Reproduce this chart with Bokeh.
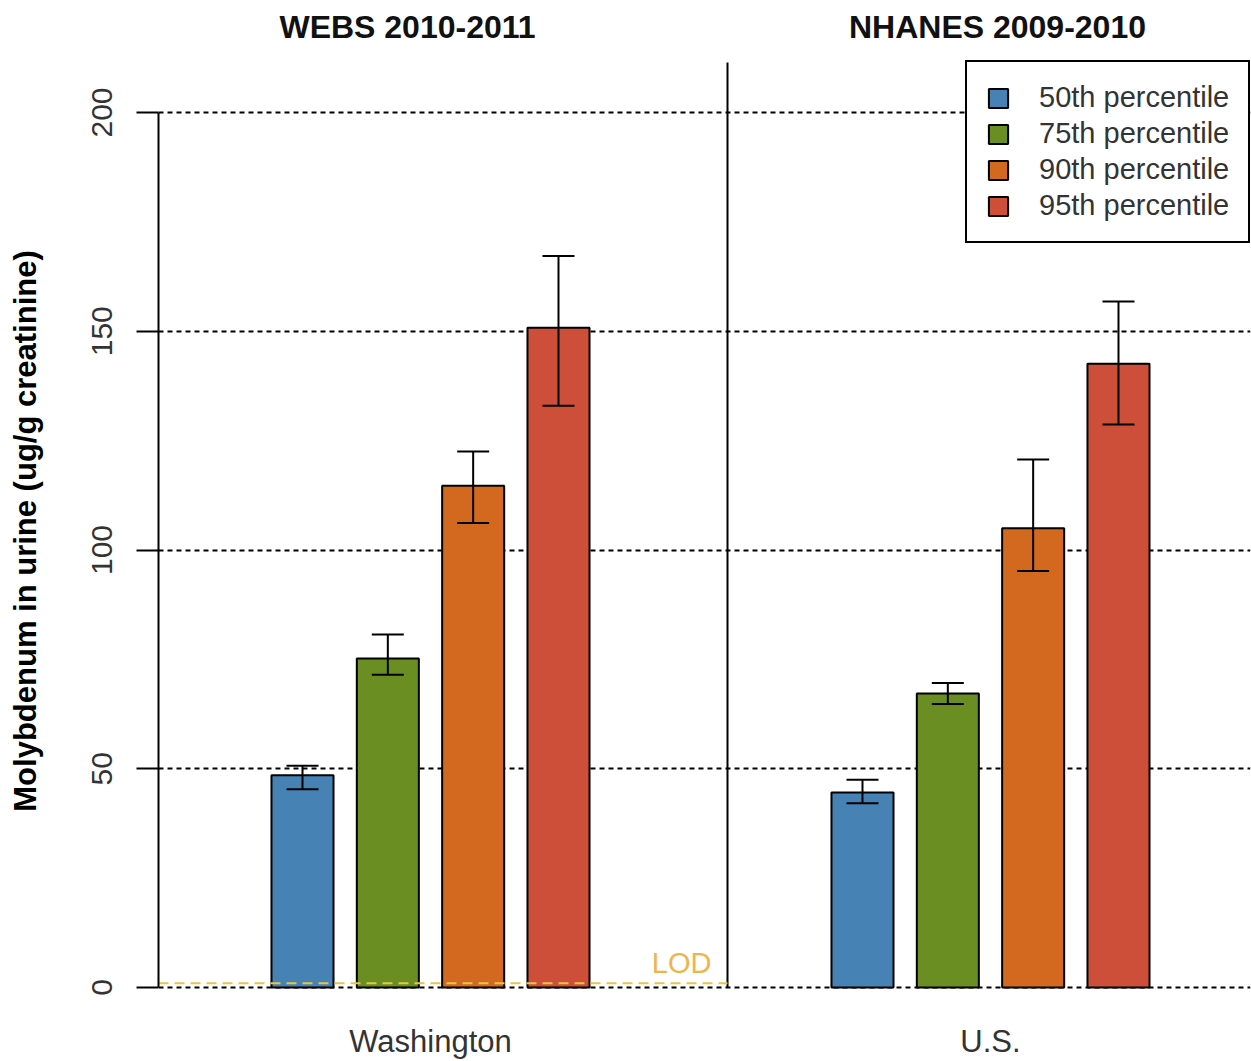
from bokeh.plotting import figure
from bokeh.models import Range1d, FixedTicker, ColumnDataSource, Whisker, TeeHead, Label
from bokeh.embed import file_html
from bokeh.resources import INLINE

# ---------------- data ----------------
groups = ["Washington", "U.S."]
panel_titles = ["WEBS 2010-2011", "NHANES 2009-2010"]
percentiles = ["50th percentile", "75th percentile", "90th percentile", "95th percentile"]

p50 = [48.5, 44.6]
p50_low = [45.3, 42.1]
p50_high = [50.7, 47.5]

p75 = [75.2, 67.2]
p75_low = [71.5, 64.8]
p75_high = [80.7, 69.6]

p90 = [114.7, 105.0]
p90_low = [106.2, 95.2]
p90_high = [122.5, 120.7]

p95 = [150.8, 142.6]
p95_low = [133.0, 128.7]
p95_high = [167.2, 156.8]

lod_value = 1.0
y_ticks = [0, 50, 100, 150, 200]
y_label = "Molybdenum in urine (ug/g creatinine)"

# ---------------- style / layout ----------------
colors = ["#4682B4", "#6B8E23", "#D2691E", "#CD4F39"]
FONT = "Liberation Sans"
W, H = 1251, 1061
group_start = [1.6875, 8.25]
bar_width = 0.727
divider_x = 6.668
x_end = 12.797
panel_top = 211.43
title_x = [2.918, 9.832]

p = figure(width=W, height=H, output_backend="svg", toolbar_location=None,
           x_range=Range1d(0, x_end), y_range=Range1d(-16.91, 225.6),
           x_axis_location=None, min_border_left=158, min_border_right=1,
           min_border_top=0, min_border_bottom=0)
p.outline_line_color = None
p.xgrid.visible = False
p.ygrid.ticker = FixedTicker(ticks=y_ticks)
p.ygrid.grid_line_color = "black"
p.ygrid.grid_line_width = 2
p.ygrid.grid_line_dash = "5 4"

ax = p.yaxis[0]
ax.ticker = FixedTicker(ticks=y_ticks)
ax.bounds = (0, 200)
ax.major_label_orientation = "vertical"
ax.axis_line_width = 2
ax.major_tick_line_width = 2
ax.major_tick_out = 22
ax.major_tick_in = 0
ax.minor_tick_line_color = None
ax.major_label_text_font = FONT
ax.major_label_text_font_size = "30px"
ax.major_label_text_color = "#333333"
ax.major_label_standoff = 24
ax.axis_label = y_label
ax.axis_label_text_font = FONT
ax.axis_label_text_font_size = "31px"
ax.axis_label_text_font_style = "bold"
ax.axis_label_text_color = "black"
ax.axis_label_standoff = 47

# divider between the two panels
p.segment(x0=[divider_x], y0=[0], x1=[divider_x], y1=[panel_top], line_color="black", line_width=2)

series = [(p50, p50_low, p50_high), (p75, p75_low, p75_high),
          (p90, p90_low, p90_high), (p95, p95_low, p95_high)]
for i, (vals, lo, hi) in enumerate(series):
    xs = [g + i for g in group_start]
    src = ColumnDataSource(dict(x=xs, top=vals, lower=lo, upper=hi))
    p.vbar(x="x", top="top", bottom=0, width=bar_width, source=src,
           fill_color=colors[i], line_color="black", line_width=2,
           legend_label=percentiles[i])
    w = Whisker(source=src, base="x", upper="upper", lower="lower",
                line_color="black", line_width=2, level="annotation",
                upper_head=TeeHead(size=32, line_width=2, line_color="black"),
                lower_head=TeeHead(size=32, line_width=2, line_color="black"))
    p.add_layout(w)

# LOD line (Washington panel only)
p.segment(x0=[0], y0=[lod_value], x1=[divider_x], y1=[lod_value],
          line_color="#E8C547", line_width=2, line_dash="10 6")
p.add_layout(Label(x=6.48, y=5.6, text="LOD", text_align="right", text_baseline="alphabetic",
                   text_font=FONT, text_font_size="29px", text_color="#F0B44C"))

# panel titles
for t, x in zip(panel_titles, title_x):
    p.add_layout(Label(x=x, y=219.5, text=t, text_align="center", text_baseline="middle",
                       text_font=FONT, text_font_size="32px", text_font_style="bold",
                       text_color="#111111"))

# group labels
for gi, g in enumerate(groups):
    p.add_layout(Label(x=group_start[gi] + 1.5, y=-12.4, text=g, text_align="center",
                       text_baseline="middle", text_font=FONT, text_font_size="31px",
                       text_color="#333333"))

lg = p.legend[0]
lg.location = (807, 818)
lg.margin = 0
lg.padding = 19
lg.spacing = 3
lg.label_standoff = 29
lg.glyph_width = 24
lg.glyph_height = 24
lg.label_text_font = FONT
lg.label_text_font_size = "29px"
lg.label_text_color = "#333333"
lg.border_line_color = "black"
lg.border_line_width = 2
lg.border_line_alpha = 1.0
lg.background_fill_alpha = 1.0

open("out.html", "w").write(file_html(p, INLINE))
